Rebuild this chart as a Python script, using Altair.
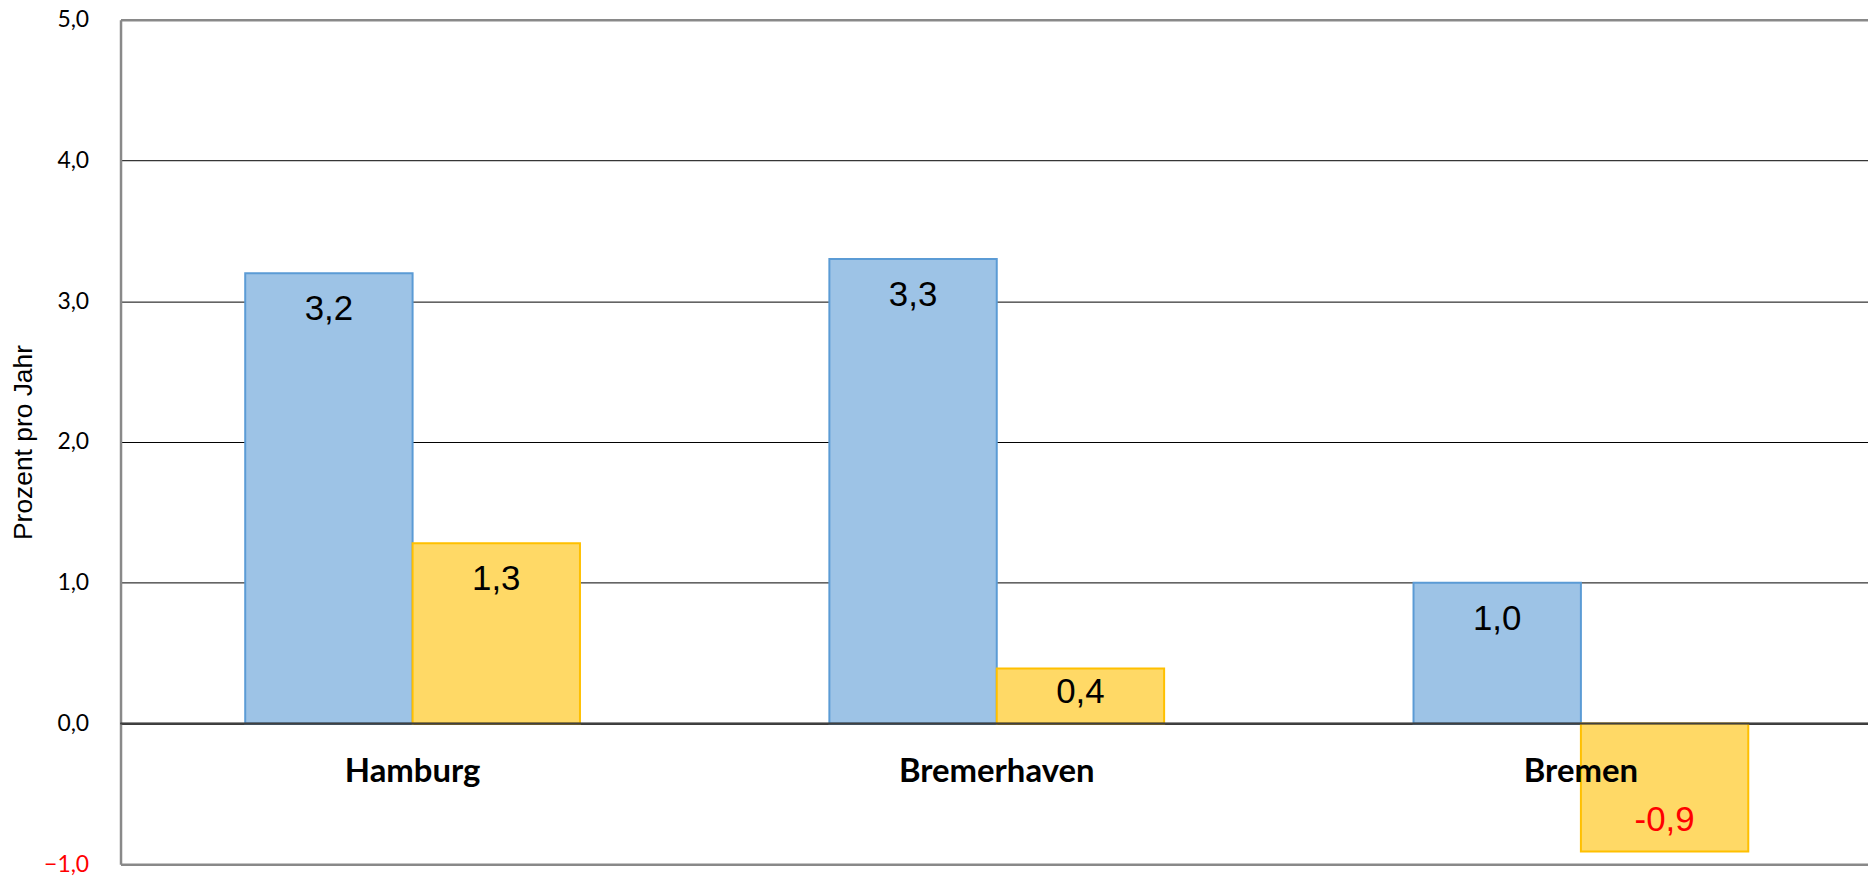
import altair as alt
import pandas as pd

regions = ["Hamburg", "Bremerhaven", "Bremen"]
series = ["Reihe 1", "Reihe 2"]
values_1 = [3.2, 3.3, 1.0]
values_2 = [1.28, 0.39, -0.91]
labels_1 = ["3,2", "3,3", "1,0"]
labels_2 = ["1,3", "0,4", "-0,9"]
y_ticks = [-1, 0, 1, 2, 3, 4, 5]

rows = []
for i, r in enumerate(regions):
    rows.append(dict(region=r, series=series[0], value=values_1[i], label=labels_1[i]))
    rows.append(dict(region=r, series=series[1], value=values_2[i], label=labels_2[i]))
df = pd.DataFrame(rows)
df["base"] = df["value"].clip(upper=0)

cat_df = pd.DataFrame({"region": regions})

x = alt.X("region:N", sort=regions,
          scale=alt.Scale(paddingInner=0, paddingOuter=0, range=[0, 1760]), axis=None)
xo = alt.XOffset("series:N", sort=series,
                 scale=alt.Scale(paddingInner=0, paddingOuter=0.745))
yscale = alt.Scale(domain=[-1, 5], nice=False, zero=False)

yaxis = alt.Axis(
    values=y_ticks,
    labelExpr="replace(format(datum.value, '.1f'), '.', ',')",
    labelFont="Lato", labelFontSize=23,
    labelColor={"condition": {"test": "datum.value < 0", "value": "#FF0000"}, "value": "#000000"},
    labelPadding=32,
    ticks=False,
    domainColor="#898989", domainWidth=2.5,
    grid=True,
    gridColor={"condition": {"test": "datum.value === 5 || datum.value === -1", "value": "#898989"}, "value": "#000000"},
    gridWidth={"condition": {"test": "datum.value === 5 || datum.value === -1", "value": 2.5}, "value": 1},
    titleFont="Liberation Sans", titleFontSize=26.5, titleFontWeight="normal",
    titleColor="#000000", titleAngle=270, titleX=-97, titleY=424,
    titleAlign="center", titleBaseline="middle",
)

bars = alt.Chart(df).mark_bar(strokeWidth=2).encode(
    x=x,
    xOffset=xo,
    y=alt.Y("value:Q", scale=yscale, axis=yaxis, title="Prozent pro Jahr"),
    color=alt.Color("series:N", scale=alt.Scale(domain=series, range=["#9DC3E6", "#FFD966"]), legend=None),
    stroke=alt.Stroke("series:N", scale=alt.Scale(domain=series, range=["#5B9BD5", "#FFC000"]), legend=None),
)

zero_rule = alt.Chart(cat_df).mark_rule(color="#404040", strokeWidth=1.5).encode(
    y=alt.datum(0, scale=yscale)
)

label_color = alt.condition("datum.value < 0", alt.value("#FF0000"), alt.value("#000000"))

labels_top = alt.Chart(df).transform_filter("datum.value >= 0.9").mark_text(
    font="Liberation Sans", fontSize=35, baseline="alphabetic", dy=47
).encode(
    x=x, xOffset=xo,
    y=alt.Y("value:Q", scale=yscale),
    text="label:N",
    color=label_color,
)

labels_bottom = alt.Chart(df).transform_filter("datum.value < 0.9").mark_text(
    font="Liberation Sans", fontSize=35, baseline="alphabetic", dy=-21
).encode(
    x=x, xOffset=xo,
    y=alt.Y("base:Q", scale=yscale),
    text="label:N",
    color=label_color,
)

cat_labels = alt.Chart(cat_df).mark_text(
    font="Lato", fontWeight="bold", fontSize=33, baseline="alphabetic", dy=58.5, color="#000000"
).encode(
    x=x,
    y=alt.datum(0, scale=yscale),
    text="region:N",
)

chart = alt.layer(bars, zero_rule, labels_top, labels_bottom, cat_labels).properties(
    width=1755, height=848,
    autosize="none",
    padding={"left": 113, "top": 10, "right": 0, "bottom": 14},
    background="#FFFFFF",
).configure_view(strokeWidth=0)

chart.save("out.html", embed_options={"renderer": "svg", "actions": False})
